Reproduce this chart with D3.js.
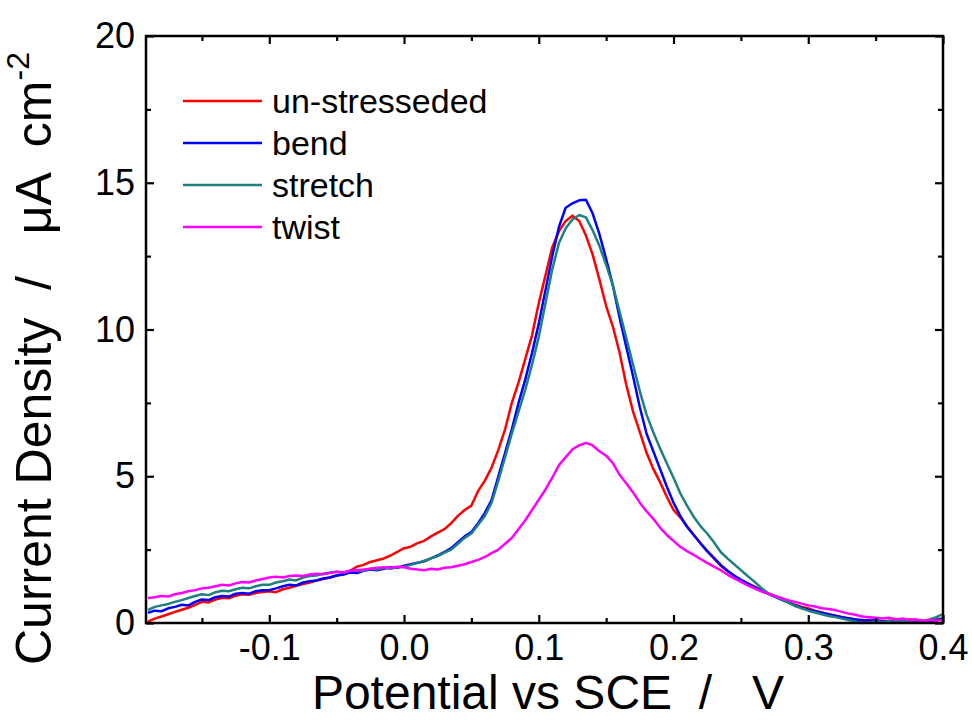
<script src="https://cdn.jsdelivr.net/npm/d3@7"></script>
<html>
<head>
<meta charset="utf-8">
<style>
  body { margin: 0; background: #fff; }
  svg text { font-family: "Liberation Sans", Arial, sans-serif; fill: #000; }
</style>
</head>
<body>
<div class="chart"></div>
<script>
  // potential grid (V vs SCE), 5 mV steps
  const potential = d3.range(0, 119).map(i => +(-0.19 + i * 0.005).toFixed(3));

  const unstressed = [
    0.05,0.15,0.22,0.3,0.38,0.45,0.52,0.62,0.72,0.7,
    0.8,0.86,0.84,0.93,0.98,0.96,1.02,1.06,1.08,1.05,
    1.15,1.2,1.27,1.33,1.38,1.45,1.5,1.55,1.62,1.66,
    1.78,1.92,1.98,2.08,2.14,2.2,2.3,2.42,2.55,2.6,
    2.72,2.8,2.95,3.08,3.2,3.4,3.65,3.85,4.0,4.5,
    4.85,5.3,5.9,6.6,7.5,8.2,9.0,9.8,10.9,11.85,
    12.8,13.35,13.7,13.88,13.7,13.2,12.55,11.7,10.8,10.1,
    9.2,8.1,7.2,6.5,5.8,5.25,4.8,4.3,3.85,3.6,
    3.3,3.0,2.72,2.45,2.2,1.95,1.78,1.6,1.47,1.35,
    1.25,1.12,1.01,0.92,0.82,0.72,0.62,0.55,0.5,0.42,
    0.36,0.3,0.26,0.2,0.15,0.12,0.08,0.1,0.06,0.05,
    0.08,0.1,0.07,0.12,0.1,0.05,0.1,0.12,0.15
  ];
  const bend = [
    0.35,0.42,0.4,0.5,0.55,0.62,0.6,0.72,0.8,0.78,
    0.88,0.92,0.9,1.0,1.02,1.0,1.08,1.12,1.12,1.18,
    1.25,1.3,1.28,1.38,1.42,1.45,1.52,1.55,1.62,1.65,
    1.72,1.7,1.78,1.82,1.8,1.85,1.9,1.88,1.95,2.0,
    2.05,2.1,2.2,2.3,2.42,2.55,2.75,2.95,3.1,3.4,
    3.75,4.2,5.0,5.8,6.6,7.5,8.3,9.2,10.2,11.35,
    12.5,13.5,14.15,14.3,14.4,14.42,13.95,13.25,12.4,11.5,
    10.4,9.4,8.4,7.35,6.45,5.85,5.25,4.65,4.1,3.65,
    3.28,3.0,2.72,2.45,2.22,1.98,1.78,1.62,1.47,1.35,
    1.22,1.1,1.0,0.9,0.8,0.7,0.6,0.52,0.45,0.4,
    0.35,0.3,0.24,0.2,0.16,0.12,0.1,0.08,0.1,0.06,
    0.05,0.08,0.06,0.05,0.08,0.06,0.05,0.1,0.15
  ];
  const stretch = [
    0.45,0.55,0.6,0.65,0.72,0.78,0.85,0.92,0.98,0.95,
    1.05,1.1,1.08,1.15,1.2,1.18,1.25,1.3,1.3,1.38,
    1.42,1.48,1.45,1.55,1.6,1.62,1.68,1.72,1.75,1.72,
    1.78,1.8,1.78,1.85,1.82,1.88,1.85,1.9,1.92,1.98,
    2.05,2.12,2.2,2.28,2.4,2.5,2.7,2.9,3.05,3.35,
    3.65,4.1,4.85,5.65,6.45,7.2,7.95,8.8,9.75,10.9,
    12.05,12.95,13.45,13.75,13.9,13.82,13.38,12.85,12.2,11.5,
    10.6,9.7,8.8,7.9,7.1,6.5,5.95,5.44,4.95,4.42,
    4.0,3.62,3.3,3.05,2.75,2.42,2.2,2.0,1.8,1.6,
    1.41,1.2,1.02,0.92,0.8,0.7,0.58,0.5,0.42,0.36,
    0.3,0.24,0.2,0.15,0.1,0.05,0.0,0.02,0.05,0.03,
    0.06,0.04,0.08,0.05,0.1,0.08,0.12,0.2,0.3
  ];
  const twist = [
    0.85,0.88,0.92,0.9,0.98,1.02,1.08,1.12,1.18,1.2,
    1.25,1.3,1.28,1.35,1.4,1.38,1.45,1.5,1.55,1.58,
    1.55,1.6,1.62,1.6,1.65,1.68,1.66,1.7,1.75,1.72,
    1.78,1.8,1.82,1.85,1.88,1.9,1.88,1.92,1.9,1.85,
    1.82,1.8,1.85,1.82,1.88,1.9,1.95,2.0,2.08,2.15,
    2.25,2.38,2.5,2.7,2.9,3.2,3.5,3.85,4.2,4.55,
    4.95,5.38,5.65,5.92,6.05,6.14,6.05,5.85,5.7,5.45,
    5.05,4.75,4.45,4.1,3.8,3.55,3.25,3.0,2.8,2.6,
    2.45,2.32,2.18,2.05,1.92,1.8,1.65,1.52,1.4,1.28,
    1.18,1.08,1.01,0.92,0.85,0.78,0.72,0.66,0.6,0.56,
    0.5,0.48,0.44,0.38,0.32,0.28,0.22,0.2,0.18,0.15,
    0.18,0.12,0.15,0.1,0.12,0.08,0.1,0.08,0.1
  ];

  const seriesNames = ['un-stresseded', 'bend', 'stretch', 'twist'];
  const seriesColors = ['#ff0000', '#0000ff', '#1f8080', '#ff00ff'];
  const seriesValues = [unstressed, bend, stretch, twist];

  const xTicks = [-0.1, 0.0, 0.1, 0.2, 0.3, 0.4];
  const xMinor = [-0.15, -0.05, 0.05, 0.15, 0.25, 0.35];
  const yTicks = [0, 5, 10, 15, 20];
  const yMinor = [2.5, 7.5, 12.5, 17.5];

  const W = 972, H = 720;
  const pLeft = 146, pRight = 943, pTop = 36, pBottom = 623;

  const svg = d3.select('.chart')
    .append('svg')
    .attr('width', W)
    .attr('height', H);

  const x = d3.scaleLinear().domain([-0.1915, 0.4]).range([pLeft, pRight]);
  const y = d3.scaleLinear().domain([0, 20]).range([pBottom, pTop]);

  svg.append('clipPath').attr('id', 'plot-clip')
    .append('rect')
    .attr('x', pLeft).attr('y', pTop)
    .attr('width', pRight - pLeft).attr('height', pBottom - pTop + 2);

  // curves
  const line = d3.line()
    .x(d => x(d[0]))
    .y(d => y(d[1]));

  seriesValues.forEach(function(vals, k) {
    svg.append('path')
      .datum(potential.map((p, i) => [p, vals[i]]))
      .attr('clip-path', 'url(#plot-clip)')
      .attr('fill', 'none')
      .attr('stroke', seriesColors[k])
      .attr('stroke-width', 2.5)
      .attr('stroke-linejoin', 'round')
      .attr('d', line);
  });

  // axes, ticks pointing inward
  function styleAxis(g) {
    g.select('.domain').remove();
    g.selectAll('.tick line').attr('stroke', '#000').attr('stroke-width', 2.2);
    g.selectAll('.tick text').attr('font-size', '36px')
      .style('font-family', '"Liberation Sans", Arial, sans-serif');
  }

  svg.append('g')
    .attr('transform', 'translate(0,' + pBottom + ')')
    .call(d3.axisBottom(x).tickValues(xTicks).tickSize(-8).tickPadding(11)
      .tickFormat(d => d.toFixed(1)))
    .call(styleAxis);
  svg.append('g')
    .attr('transform', 'translate(0,' + pBottom + ')')
    .call(d3.axisBottom(x).tickValues(xMinor).tickSize(-5).tickFormat(''))
    .call(styleAxis);
  svg.append('g')
    .attr('transform', 'translate(0,' + pTop + ')')
    .call(d3.axisTop(x).tickValues(xTicks).tickSize(-8).tickFormat(''))
    .call(styleAxis);
  svg.append('g')
    .attr('transform', 'translate(0,' + pTop + ')')
    .call(d3.axisTop(x).tickValues(xMinor).tickSize(-5).tickFormat(''))
    .call(styleAxis);

  svg.append('g')
    .attr('transform', 'translate(' + pLeft + ',0)')
    .call(d3.axisLeft(y).tickValues(yTicks).tickSize(-8).tickPadding(11))
    .call(styleAxis);
  svg.append('g')
    .attr('transform', 'translate(' + pLeft + ',0)')
    .call(d3.axisLeft(y).tickValues(yMinor).tickSize(-5).tickFormat(''))
    .call(styleAxis);
  svg.append('g')
    .attr('transform', 'translate(' + pRight + ',0)')
    .call(d3.axisRight(y).tickValues(yTicks).tickSize(-8).tickFormat(''))
    .call(styleAxis);
  svg.append('g')
    .attr('transform', 'translate(' + pRight + ',0)')
    .call(d3.axisRight(y).tickValues(yMinor).tickSize(-5).tickFormat(''))
    .call(styleAxis);

  // frame
  svg.append('rect')
    .attr('x', pLeft).attr('y', pTop)
    .attr('width', pRight - pLeft).attr('height', pBottom - pTop)
    .attr('fill', 'none')
    .attr('stroke', '#000')
    .attr('stroke-width', 2.5);

  // axis titles
  svg.append('text')
    .attr('x', 548)
    .attr('y', 709)
    .attr('text-anchor', 'middle')
    .attr('font-size', '48px')
    .attr('xml:space', 'preserve')
    .text('Potential vs SCE  /   V');

  const yTitle = svg.append('text')
    .attr('transform', 'translate(51,665) rotate(-90)')
    .attr('text-anchor', 'start')
    .attr('font-size', '50px')
    .attr('xml:space', 'preserve');
  yTitle.append('tspan').text('Current Density  /   \u03bcA  cm');
  yTitle.append('tspan').attr('dy', -22).attr('font-size', '32px').text('-2');

  // legend
  const legend = svg.append('g').attr('transform', 'translate(183,101)');
  seriesNames.forEach(function(name, k) {
    const row = legend.append('g').attr('transform', 'translate(0,' + (k * 42) + ')');
    row.append('line')
      .attr('x1', 0).attr('x2', 79)
      .attr('stroke', seriesColors[k])
      .attr('stroke-width', 2.6);
    row.append('text')
      .attr('x', 89).attr('y', 12)
      .attr('font-size', '34px')
      .text(name);
  });
</script>
</body>
</html>
